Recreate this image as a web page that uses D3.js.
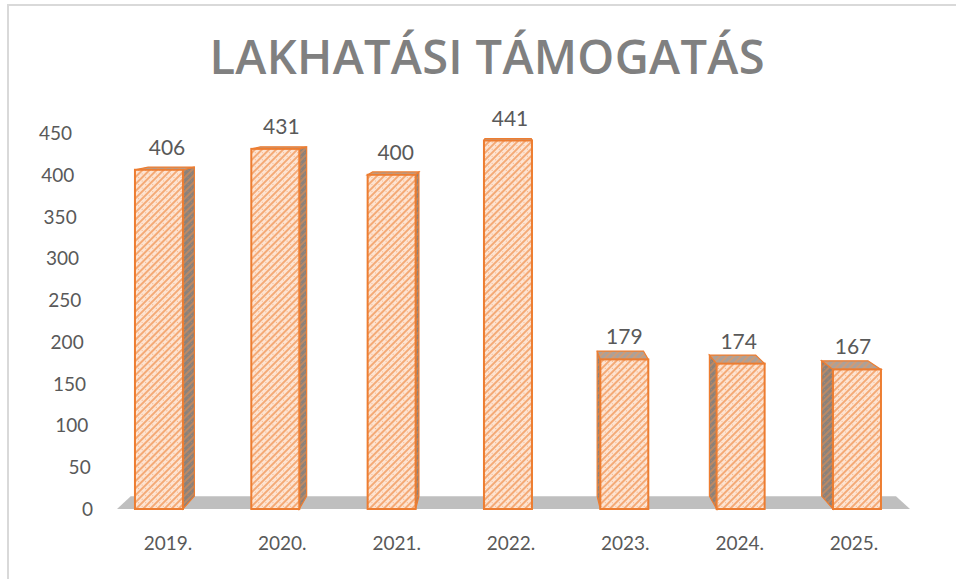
<!DOCTYPE html>
<html>
<head>
<meta charset="utf-8">
<script src="https://cdn.jsdelivr.net/npm/d3@7"></script>
<style>
  body { margin: 0; background: #fff; }
  svg { display: block; }
</style>
</head>
<body>
<div id="chart"></div>
<script>
const years = ["2019.", "2020.", "2021.", "2022.", "2023.", "2024.", "2025."];
const values = [406, 431, 400, 441, 179, 174, 167];
const yTicks = [0, 50, 100, 150, 200, 250, 300, 350, 400, 450];
const title = "LAKHATÁSI TÁMOGATÁS";

const width = 956, height = 579;
const barW = 48;
// depth direction (fake 3D) : things at the back move toward this point
const vx = 510, vy = 80, kx = 0.035, ky = 0.03;
const back = (x, y) => [x + (vx - x) * kx, y - (y - vy) * ky];

const svg = d3.select("#chart").append("svg")
    .attr("width", width)
    .attr("height", height);

const defs = svg.append("defs");

function hatch(id, bg, line) {
    const p = defs.append("pattern")
        .attr("id", id)
        .attr("patternUnits", "userSpaceOnUse")
        .attr("width", 5)
        .attr("height", 5)
        .attr("patternTransform", "rotate(45)");
    p.append("rect").attr("width", 5).attr("height", 5).attr("fill", bg);
    p.append("line")
        .attr("x1", 1).attr("y1", 0).attr("x2", 1).attr("y2", 5)
        .attr("stroke", line).attr("stroke-width", 1.8);
    p.append("circle").attr("cx", 3.5).attr("cy", 2.5).attr("r", 0.5).attr("fill", line);
}
hatch("front", "#fde4d3", "#f3a46c");
hatch("side", "#8a817b", "#c08a63");
hatch("top", "#aaa19b", "#d39a72");

// frame
svg.append("line").attr("x1", 7).attr("x2", width).attr("y1", 5).attr("y2", 5)
    .attr("stroke", "#d9d9d9").attr("stroke-width", 2);
svg.append("line").attr("x1", 8).attr("x2", 8).attr("y1", 5).attr("y2", height)
    .attr("stroke", "#d9d9d9").attr("stroke-width", 2);

// title
svg.append("text")
    .attr("x", 487)
    .attr("y", 74)
    .attr("text-anchor", "middle")
    .attr("font-family", "'Open Sans', sans-serif")
    .attr("font-weight", 600)
    .attr("font-size", 47)
    .attr("fill", "#808080")
    .attr("textLength", 555)
    .attr("lengthAdjust", "spacing")
    .text(title);

const x = d3.scalePoint().domain(years).range([165, 851]);
const y = d3.scaleLinear().domain([0, 450]).range([509, 133]);
// tick labels drift right lower down (perspective)
const tickX = d3.scaleLinear().domain([0, 450]).range([93, 72]);

// y tick labels
svg.append("g").selectAll("text")
    .data(yTicks)
    .join("text")
    .attr("x", d => tickX(d))
    .attr("y", d => y(d) + 7)
    .attr("text-anchor", "end")
    .attr("font-family", "Lato, sans-serif")
    .attr("font-size", 19)
    .attr("fill", "#595959")
    .text(d => d);

// floor
const fl = 117, fr = 910, fy = y(0);
const bl = back(fl, fy), br = back(fr, fy);
svg.append("path")
    .attr("d", `M${fl},${fy}L${fr},${fy}L${br[0]},${br[1]}L${bl[0]},${bl[1]}Z`)
    .attr("fill", "#bfbfbf");

// bars
const data = years.map((k, i) => ({ year: k, value: values[i] }));
const bars = svg.append("g").selectAll("g")
    .data(data)
    .join("g");

bars.each(function (d) {
    const g = d3.select(this);
    const cx = x(d.year);
    const sideW = (vx - cx) * kx;
    const x0 = cx - barW / 2 - sideW / 2, x1 = x0 + barW;
    const yt = y(d.value), yb = y(0);
    const edgeX = sideW > 0 ? x1 : x0;
    const bt = back(edgeX, yt), bb = back(edgeX, yb);
    // side face
    g.append("path")
        .attr("d", `M${edgeX},${yt}L${bt[0]},${bt[1]}L${bb[0]},${bb[1]}L${edgeX},${yb}Z`)
        .attr("fill", "url(#side)")
        .attr("stroke", "#ed7d31")
        .attr("stroke-width", 1.2);
    // top face
    const t0 = back(x0, yt), t1 = back(x1, yt);
    g.append("path")
        .attr("d", `M${x0},${yt}L${x1},${yt}L${t1[0]},${t1[1]}L${t0[0]},${t0[1]}Z`)
        .attr("fill", "url(#top)")
        .attr("stroke", "#ed7d31")
        .attr("stroke-width", 1.2);
    // front face
    g.append("rect")
        .attr("x", x0)
        .attr("y", yt)
        .attr("width", barW)
        .attr("height", yb - yt)
        .attr("fill", "url(#front)")
        .attr("stroke", "#ed7d31")
        .attr("stroke-width", 2);
    // value label
    g.append("text")
        .attr("x", cx + 2)
        .attr("y", yt - 15)
        .attr("text-anchor", "middle")
        .attr("font-family", "Lato, sans-serif")
        .attr("font-size", 21)
        .attr("fill", "#595959")
        .text(d.value);
});

// category labels
svg.append("g").selectAll("text")
    .data(years)
    .join("text")
    .attr("x", d => x(d) + 3)
    .attr("y", 550)
    .attr("text-anchor", "middle")
    .attr("font-family", "Lato, sans-serif")
    .attr("font-size", 19)
    .attr("fill", "#595959")
    .text(d => d);
</script>
</body>
</html>
